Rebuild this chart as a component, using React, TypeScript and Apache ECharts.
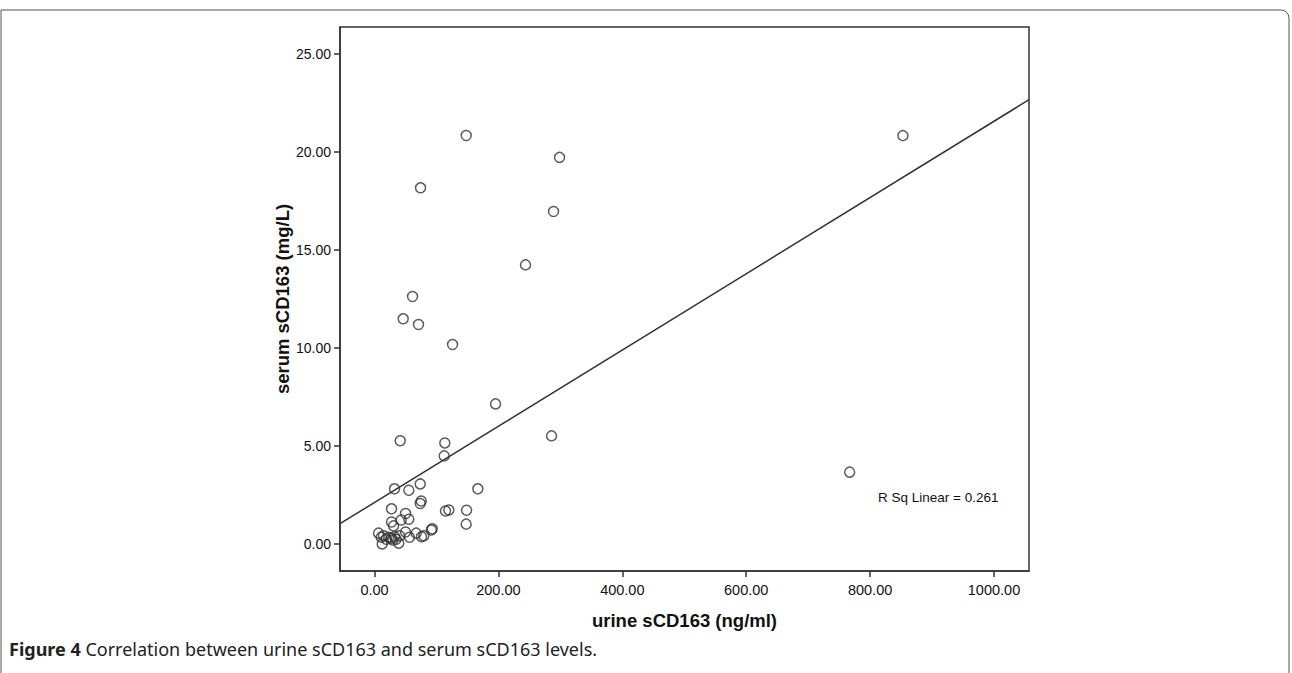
import React, { useEffect, useRef } from "react";
import * as echarts from "echarts";

const urineValues: number[] = [
  148, 853, 298.7, 74.3, 289, 243.8, 61.4, 46.3, 71, 126, 195.4, 767,
  41.5, 113.5, 112.5, 285.8, 32.3, 55.4, 73.8, 166.8, 75.4, 73.8, 27.5, 50.1,
  55.4, 43.1, 27.5, 30.7, 114.6, 120, 148.6, 148, 91.6, 93.2, 67.3, 50.1,
  6.5, 75.9, 79.6, 56.5, 40.4, 10.8, 14.5, 23.1, 27, 32.3, 35, 29.5, 12.4,
  39.2, 18.9,
];
const serumValues: number[] = [
  20.83, 20.82, 19.71, 18.16, 16.95, 14.23, 12.62, 11.48, 11.19, 10.17, 7.14, 3.66,
  5.26, 5.15, 4.49, 5.51, 2.81, 2.74, 3.06, 2.81, 2.19, 2.06, 1.79, 1.55,
  1.26, 1.22, 1.12, 0.92, 1.68, 1.73, 1.72, 1.01, 0.71, 0.77, 0.55, 0.61,
  0.55, 0.37, 0.42, 0.34, 0.42, 0.34, 0.42, 0.34, 0.29, 0.37, 0.24, 0.2, 0.0,
  0.04, 0.24,
];
const xTicks = [0, 200, 400, 600, 800, 1000];
const yTicks = [0, 5, 10, 15, 20, 25];
const xRange = [-55.7, 1056.5];
const yRange = [-1.38, 26.36];
const fitIntercept = 2.113;
const fitSlope = 0.01944;
const rSqText = "R Sq Linear = 0.261";
const xTitle = "urine sCD163 (ng/ml)";
const yTitle = "serum sCD163 (mg/L)";
const captionBold = "Figure 4";
const captionRest = " Correlation between urine sCD163 and serum sCD163 levels.";

export default function App() {
  const ref = useRef<HTMLDivElement>(null);
  useEffect(() => {
    if (!ref.current) return;
    const chart = echarts.init(ref.current, undefined, { renderer: "svg" });
    const points = urineValues.map((x, i) => [x, serumValues[i]]);
    const fitLine = xRange.map((x) => [x, fitIntercept + fitSlope * x]);
    const font = "Liberation Sans, Arial, sans-serif";
    chart.setOption({
      animation: false,
      backgroundColor: "#fff",
      grid: {
        left: 340,
        top: 27,
        width: 689,
        height: 544,
        show: true,
        borderColor: "#333",
        borderWidth: 1.5,
        backgroundColor: "transparent",
      },
      xAxis: {
        type: "value",
        min: xRange[0],
        max: xRange[1],
        name: xTitle,
        nameLocation: "middle",
        nameGap: 40,
        nameMoveOverlap: false,
        nameTextStyle: { fontFamily: font, fontWeight: "bold", fontSize: 18.5, color: "#111" },
        splitLine: { show: false },
        axisLine: { show: true, onZero: false, lineStyle: { color: "#333", width: 1.5 } },
        axisTick: { show: true, length: 6, customValues: xTicks, lineStyle: { color: "#333", width: 1.5 } },
        axisLabel: {
          customValues: xTicks,
          formatter: (v: number) => v.toFixed(2),
          margin: 11,
          fontFamily: font,
          fontSize: 14.5,
          color: "#111",
        },
      },
      yAxis: {
        type: "value",
        min: yRange[0],
        max: yRange[1],
        name: yTitle,
        nameLocation: "middle",
        nameGap: 48,
        nameMoveOverlap: false,
        nameTextStyle: { fontFamily: font, fontWeight: "bold", fontSize: 18.5, color: "#111" },
        splitLine: { show: false },
        axisLine: { show: true, onZero: false, lineStyle: { color: "#333", width: 1.5 } },
        axisTick: { show: true, length: 6, customValues: yTicks, lineStyle: { color: "#333", width: 1.5 } },
        axisLabel: {
          customValues: yTicks,
          formatter: (v: number) => v.toFixed(2),
          margin: 9,
          fontFamily: font,
          fontSize: 14,
          color: "#111",
        },
      },
      series: [
        {
          type: "line",
          data: fitLine,
          symbol: "none",
          lineStyle: { color: "#333", width: 1.5 },
          clip: true,
          silent: true,
        },
        {
          type: "scatter",
          data: points,
          symbol: "circle",
          symbolSize: 10,
          itemStyle: { color: "rgba(255,255,255,0)", borderColor: "#333", borderWidth: 1.5 },
        },
      ],
      graphic: [
        {
          type: "rect",
          shape: { x: 1, y: 10, width: 1288, height: 700, r: [0, 8, 0, 0] },
          style: { fill: "none", stroke: "#555", lineWidth: 1 },
          silent: true,
        },
        {
          type: "text",
          left: 878,
          top: 490,
          style: { text: rSqText, fontFamily: font, fontSize: 13.5, fill: "#111" },
        },
        {
          type: "text",
          left: 9,
          top: 640,
          style: {
            text: "{b|" + captionBold + "}{r|" + captionRest + "}",
            rich: {
              b: { fontFamily: "Noto Sans, sans-serif", fontWeight: "bold", fontSize: 18, fill: "#222" },
              r: { fontFamily: "Noto Sans, sans-serif", fontSize: 18, fill: "#222" },
            },
          },
        },
      ],
    });
    return () => chart.dispose();
  }, []);
  return (
    <div
      ref={ref}
      style={{ position: "fixed", left: 0, top: 0, width: 1292, height: 673 }}
    />
  );
}
